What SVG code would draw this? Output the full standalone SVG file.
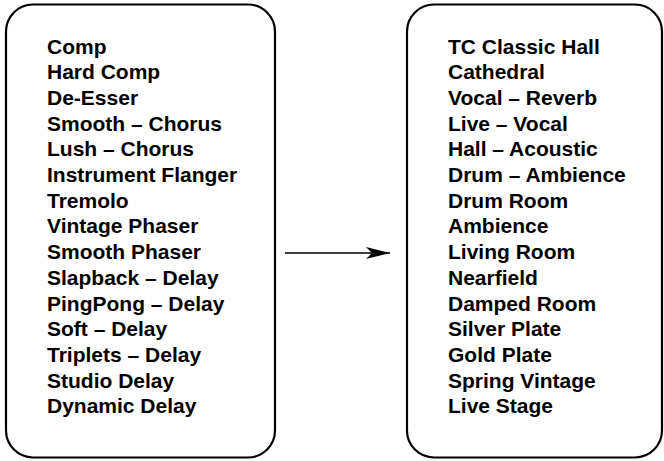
<svg xmlns="http://www.w3.org/2000/svg" width="664" height="461" viewBox="0 0 664 461">
<style>
.box{fill:#fff;stroke:#000;stroke-width:2.2}
.t{font-family:"Liberation Sans",Arial,sans-serif;font-weight:bold;font-size:21px;fill:#000}
.c{stroke:#000;stroke-width:1.4;fill:none}
</style>
<defs>
<marker id="ah" viewBox="0 0 24 12" refX="24" refY="6" markerWidth="24" markerHeight="12" markerUnits="userSpaceOnUse" orient="auto">
<path d="M0,0 L24,6 L0,12 L6,6 Z" fill="#000"/>
</marker>
</defs>
<rect width="664" height="461" fill="#fff"/>
<g id="left">
<rect class="box" x="6" y="4.5" width="269" height="453" rx="27" ry="27"/>
<text class="t">
<tspan x="47" y="53.5">Comp</tspan>
<tspan x="47" y="79.2">Hard Comp</tspan>
<tspan x="47" y="104.9">De-Esser</tspan>
<tspan x="47" y="130.6">Smooth – Chorus</tspan>
<tspan x="47" y="156.3">Lush – Chorus</tspan>
<tspan x="47" y="182">Instrument Flanger</tspan>
<tspan x="47" y="207.7">Tremolo</tspan>
<tspan x="47" y="233.4">Vintage Phaser</tspan>
<tspan x="47" y="259.1">Smooth Phaser</tspan>
<tspan x="47" y="284.8">Slapback – Delay</tspan>
<tspan x="47" y="310.5">PingPong – Delay</tspan>
<tspan x="47" y="336.2">Soft – Delay</tspan>
<tspan x="47" y="361.9">Triplets – Delay</tspan>
<tspan x="47" y="387.6">Studio Delay</tspan>
<tspan x="47" y="413.3">Dynamic Delay</tspan>
</text>
</g>
<g id="right">
<rect class="box" x="407" y="4.5" width="255" height="453" rx="27" ry="27"/>
<text class="t">
<tspan x="448" y="53.5">TC Classic Hall</tspan>
<tspan x="448" y="79.2">Cathedral</tspan>
<tspan x="448" y="104.9">Vocal – Reverb</tspan>
<tspan x="448" y="130.6">Live – Vocal</tspan>
<tspan x="448" y="156.3">Hall – Acoustic</tspan>
<tspan x="448" y="182">Drum – Ambience</tspan>
<tspan x="448" y="207.7">Drum Room</tspan>
<tspan x="448" y="233.4">Ambience</tspan>
<tspan x="448" y="259.1">Living Room</tspan>
<tspan x="448" y="284.8">Nearfield</tspan>
<tspan x="448" y="310.5">Damped Room</tspan>
<tspan x="448" y="336.2">Silver Plate</tspan>
<tspan x="448" y="361.9">Gold Plate</tspan>
<tspan x="448" y="387.6">Spring Vintage</tspan>
<tspan x="448" y="413.3">Live Stage</tspan>
</text>
</g>
<g id="connectors">
<line class="c" x1="285" y1="253" x2="390" y2="253" marker-end="url(#ah)"/>
</g>
</svg>
